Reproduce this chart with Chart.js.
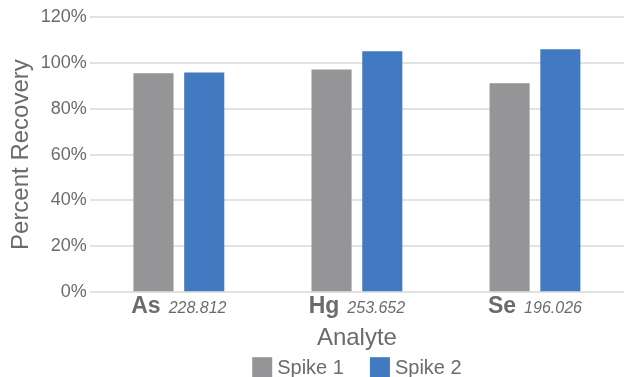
<!DOCTYPE html>
<html>
<head>
<meta charset="utf-8">
<script src="https://cdn.jsdelivr.net/npm/chart.js@4.4.1/dist/chart.umd.min.js"></script>
<style>
  html, body { margin: 0; padding: 0; background: #fff; }
  #wrap { width: 631px; height: 377px; }
</style>
</head>
<body>
<div id="wrap"><canvas id="chart"></canvas></div>
<script>
const elements = ['As', 'Hg', 'Se'];
const wavelengths = ['228.812', '253.652', '196.026'];
const spike1 = [95.5, 97.1, 91.1];
const spike2 = [95.8, 105.1, 105.9];
const seriesNames = ['Spike 1', 'Spike 2'];
const seriesColors = ['#959598', '#417ac0'];
const yTicks = [0, 20, 40, 60, 80, 100, 120];

const textColor = '#6b6b6e';
const fontFamily = '"Liberation Sans", Arial, sans-serif';

// "As 228.812": bold symbol + italic wavelength under each category
const analyteLabels = {
    id: 'analyteLabels',
    afterDraw(chart) {
        const ctx = chart.ctx;
        const xScale = chart.scales.x;
        const y = chart.chartArea.bottom + 21;
        ctx.save();
        ctx.fillStyle = textColor;
        ctx.textAlign = 'left';
        ctx.textBaseline = 'alphabetic';
        elements.forEach((el, i) => {
            const cx = xScale.getPixelForTick(i);
            ctx.font = 'bold 23px ' + fontFamily;
            const w1 = ctx.measureText(el).width;
            ctx.font = 'italic 16px ' + fontFamily;
            const w2 = ctx.measureText(wavelengths[i]).width;
            const gap = 8;
            const x = cx - (w1 + gap + w2) / 2;
            ctx.font = 'bold 23px ' + fontFamily;
            ctx.fillText(el, x, y);
            ctx.font = 'italic 16px ' + fontFamily;
            ctx.fillText(wavelengths[i], x + w1 + gap, y);
        });
        ctx.restore();
    }
};

// legend under the axis title, built from the datasets
const bottomLegend = {
    id: 'bottomLegend',
    afterDraw(chart) {
        const ctx = chart.ctx;
        const area = chart.chartArea;
        const box = 20, textGap = 5, itemGap = 26;
        const top = area.bottom + 65;
        ctx.save();
        ctx.font = '20px ' + fontFamily;
        const items = chart.data.datasets.map(ds => ({
            text: ds.label, color: ds.backgroundColor, w: box + textGap + ctx.measureText(ds.label).width
        }));
        const total = items.reduce((s, it) => s + it.w, 0) + itemGap * (items.length - 1);
        let x = (area.left + area.right) / 2 - total / 2;
        ctx.textBaseline = 'middle';
        ctx.textAlign = 'left';
        items.forEach(it => {
            ctx.fillStyle = it.color;
            ctx.fillRect(x, top, box, box);
            ctx.fillStyle = textColor;
            ctx.fillText(it.text, x + box + textGap, top + box / 2 + 1);
            x += it.w + itemGap;
        });
        ctx.restore();
    }
};

new Chart(document.getElementById('chart'), {
    type: 'bar',
    data: {
        labels: elements,
        datasets: seriesNames.map((name, i) => ({
            label: name,
            data: [spike1, spike2][i],
            backgroundColor: seriesColors[i]
        }))
    },
    options: {
        responsive: true,
        maintainAspectRatio: false,
        animation: false,
        categoryPercentage: 0.57,
        barPercentage: 0.79,
        layout: { padding: { top: 17, right: 7, left: 7, bottom: 24 } },
        scales: {
            x: {
                grid: { display: false },
                border: { display: false },
                ticks: { color: 'transparent', font: { size: 20, family: fontFamily }, padding: 0, maxRotation: 0 },
                title: { display: true, text: 'Analyte', color: textColor, font: { size: 24, family: fontFamily }, padding: { top: 0, bottom: 0 } }
            },
            y: {
                min: 0,
                max: 120,
                afterBuildTicks(axis) { axis.ticks = yTicks.map(v => ({ value: v })); },
                grid: { color: '#e2e2e2', lineWidth: 2, drawTicks: false },
                border: { display: false },
                ticks: { color: textColor, font: { size: 18, family: fontFamily }, padding: 3, callback: v => v + '%' },
                title: { display: true, text: 'Percent Recovery', color: textColor, font: { size: 24, family: fontFamily }, padding: { top: 0, bottom: 2 } }
            }
        },
        plugins: {
            legend: { display: false },
            tooltip: { enabled: false }
        }
    },
    plugins: [analyteLabels, bottomLegend]
});
</script>
</body>
</html>
